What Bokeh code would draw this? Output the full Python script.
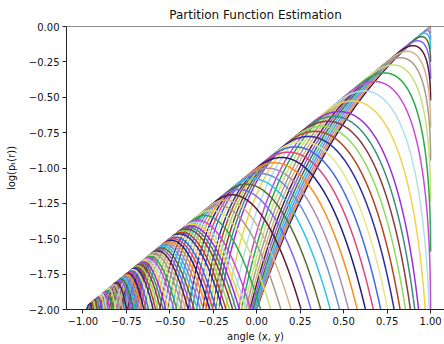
import numpy as np
from bokeh.plotting import figure
from bokeh.models import Range1d, FixedTicker, Span
from bokeh.embed import file_html
from bokeh.resources import INLINE

# ---- data ----
title_text = "Partition Function Estimation"
x_label = "angle (x, y)"
y_label = "log(p\u209c(r))"
x_ticks = [-1.0, -0.75, -0.5, -0.25, 0.0, 0.25, 0.5, 0.75, 1.0]
x_tick_labels = ["\u22121.00", "\u22120.75", "\u22120.50", "\u22120.25", "0.00", "0.25", "0.50", "0.75", "1.00"]
y_ticks = [-2.0, -1.75, -1.5, -1.25, -1.0, -0.75, -0.5, -0.25, 0.0]
y_tick_labels = ["\u22122.00", "\u22121.75", "\u22121.50", "\u22121.25", "\u22121.00", "\u22120.75", "\u22120.50", "\u22120.25", "0.00"]

# angle (radians) at which each curve touches the upper bound log p = x - 1
tangent_angle = [0.05, 0.13, 0.21, 0.29, 0.37, 0.45, 0.53, 0.61, 0.69, 0.77, 0.85, 0.93,
                 1.01, 1.09, 1.17, 1.25,
                 1.285, 1.32, 1.355, 1.39, 1.425, 1.46, 1.495, 1.53, 1.565, 1.60, 1.635,
                 1.67, 1.705, 1.74, 1.775, 1.81, 1.845, 1.88, 1.915, 1.95, 1.985,
                 2.000, 2.012, 2.024, 2.036, 2.048, 2.060, 2.072, 2.084, 2.096, 2.108,
                 2.120, 2.132, 2.144, 2.156, 2.168, 2.180, 2.192, 2.204, 2.216, 2.228,
                 2.240, 2.252, 2.264, 2.276, 2.288, 2.300, 2.312, 2.324, 2.336, 2.348,
                 2.360, 2.372, 2.384, 2.396, 2.408, 2.420, 2.432, 2.444, 2.456, 2.468,
                 2.480, 2.492,
                 2.52, 2.545, 2.57, 2.595, 2.62, 2.645, 2.67, 2.695, 2.72, 2.745, 2.77,
                 2.795, 2.82, 2.845]
# right-side curvature constant and left-wall foot positions (cosine where it leaves y=-2)
right_c = 9.0
wall_anchor_tangent_x = [-1.0, -0.8, -0.42, 0.07, 0.54, 1.0]
wall_anchor_foot_x = [-1.0, -0.9, -0.68, -0.35, -0.10, 0.0]

palette = ["#1f1f7a", "#5c1a33", "#f2d24b", "#e6e68c", "#2cc4e8", "#2aa84a",
           "#8fdc5a", "#ff8a1e", "#d2b48c", "#9b30d9", "#4169e1", "#556b2f",
           "#c84bd8", "#b5441f", "#b08db0", "#a89a8a", "#3a8f7a", "#e0457b",
           "#7b68ee", "#b0e0e6", "#2e2e9e", "#6a8fd8", "#c8e07a", "#8b3a3a"]

# ---- figure ----
p = figure(width=444, height=344, x_range=Range1d(-1.094, 1.08), y_range=Range1d(-2.0, 0.0),
           output_backend="svg", toolbar_location=None, title=title_text,
           min_border_left=66, min_border_right=0, min_border_top=26, min_border_bottom=34)
p.outline_line_color = None
p.grid.visible = False
p.background_fill_color = "white"
p.border_fill_color = "white"
p.title.align = "center"
p.title.text_font = "DejaVu Sans"
p.title.text_font_size = "12px"
p.title.text_font_style = "normal"
p.title.text_color = "#111111"

theta = np.concatenate([np.linspace(0.0, 0.06, 80, endpoint=False), np.linspace(0.06, np.pi, 1200)])
xs, ys, cols = [], [], []
for i, s in enumerate(tangent_angle):
    k_r = right_c / (np.pi - s) ** 2
    foot = np.interp(np.cos(s), wall_anchor_tangent_x, wall_anchor_foot_x)
    th_a = np.arccos(foot)
    k_l = (1.0 + np.cos(th_a)) / (th_a - s) ** 4
    d = theta - s
    y = np.where(d <= 0, np.cos(theta) - 1.0 - k_r * d ** 2, np.cos(theta) - 1.0 - k_l * d ** 4)
    idx = np.where(y > -2.3)[0]
    if len(idx) == 0:
        continue
    sl = slice(idx[0], idx[-1] + 1)
    xs.append(np.cos(theta[sl]))
    ys.append(y[sl])
    cols.append(palette[(i * 7) % len(palette)])

p.multi_line(xs, ys, line_color=cols, line_width=1.5)

for ax in (p.xaxis[0], p.yaxis[0]):
    ax.axis_line_color = "#222222"
    ax.axis_line_width = 1
    ax.major_tick_line_color = "#222222"
    ax.major_tick_out = 4
    ax.major_tick_in = 0
    ax.minor_tick_line_color = None
    ax.major_label_text_font = "DejaVu Sans"
    ax.major_label_text_font_size = "10px"
    ax.major_label_text_color = "#111111"
    ax.major_label_standoff = 3
    ax.axis_label_text_font = "DejaVu Sans"
    ax.axis_label_text_font_size = "10px"
    ax.axis_label_text_font_style = "normal"
    ax.axis_label_text_color = "#111111"

p.xaxis[0].axis_label = x_label
p.xaxis[0].axis_label_standoff = 3
p.yaxis[0].axis_label = y_label
p.yaxis[0].axis_label_standoff = 9
p.xaxis[0].ticker = FixedTicker(ticks=x_ticks)
p.xaxis[0].major_label_overrides = {t: l for t, l in zip(x_ticks, x_tick_labels)}
p.yaxis[0].ticker = FixedTicker(ticks=y_ticks)
p.yaxis[0].major_label_overrides = {t: l for t, l in zip(y_ticks, y_tick_labels)}

p.add_layout(Span(location=0.0, dimension="width", line_color="#222222", line_width=1))

open("out.html", "w").write(file_html(p, INLINE))
